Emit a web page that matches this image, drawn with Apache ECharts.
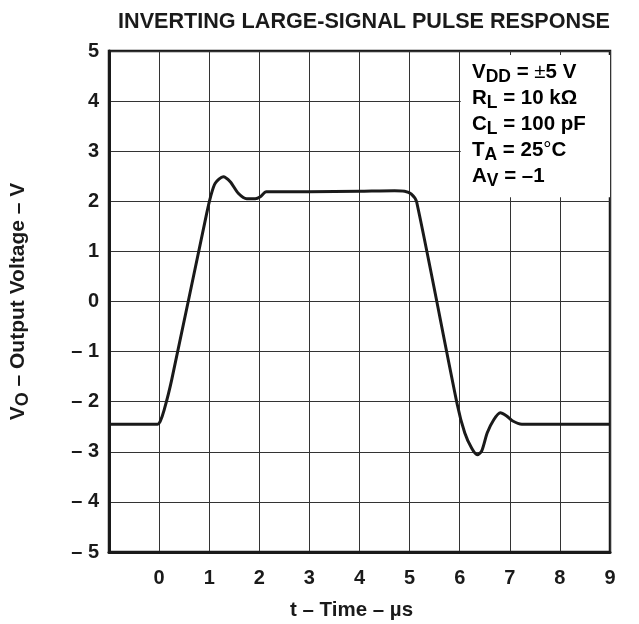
<!DOCTYPE html>
<html>
<head>
<meta charset="utf-8">
<script src="https://cdn.jsdelivr.net/npm/echarts@6/dist/echarts.min.js"></script>
<style>
html,body{margin:0;padding:0;background:#fff;}
#chart{width:639px;height:624px;}
</style>
</head>
<body>
<div id="chart"></div>
<script>
var timeUs = [-1, -0.03, 0.02, 0.1, 0.25, 0.95, 1.03, 1.12, 1.28, 1.42, 1.58, 1.75, 1.92, 2.02, 2.14, 3, 4, 4.7, 4.9, 5.03, 5.14, 5.95, 6.1, 6.24, 6.35, 6.44, 6.55, 6.68, 6.81, 6.93, 7.05, 7.24, 8, 9];
var voltage = [-2.45, -2.45, -2.4, -2.17, -1.57, 1.76, 2.1, 2.36, 2.49, 2.39, 2.16, 2.05, 2.05, 2.09, 2.19, 2.19, 2.2, 2.21, 2.2, 2.15, 1.99, -2.05, -2.62, -2.93, -3.06, -2.98, -2.62, -2.36, -2.22, -2.28, -2.38, -2.45, -2.45, -2.45];
var xTicks = [-1, 0, 1, 2, 3, 4, 5, 6, 7, 8, 9];
var yTicks = [-5, -4, -3, -2, -1, 0, 1, 2, 3, 4, 5];
var conditionBox = [[6.02, 2.08], [9, 4.92]];

var FONT = '"Liberation Sans", Arial, sans-serif';
var INK = '#1a1a1a';

var points = timeUs.map(function (t, i) { return [t, voltage[i]]; });

var chart = echarts.init(document.getElementById('chart'), null, {renderer: 'canvas'});

var norm = {fontSize: 20.5, fontWeight: 'bold', fontFamily: FONT, color: INK, lineHeight: 26};
var sub = {fontSize: 17.5, fontWeight: 'bold', fontFamily: FONT, color: INK, lineHeight: 16, padding: [10, 0, 0, 0]};
var sym = {fontSize: 20.5, fontWeight: 'normal', fontFamily: FONT, color: INK, lineHeight: 26};

chart.setOption({
  animation: false,
  backgroundColor: '#fff',
  title: {
    text: 'INVERTING LARGE-SIGNAL PULSE RESPONSE',
    left: 359, top: 6, textAlign: 'center',
    textStyle: {fontFamily: FONT, fontWeight: 'bold', fontSize: 21.6, color: INK}
  },
  grid: {
    left: 109, right: 29, top: 51, bottom: 72,
    containLabel: false, outerBoundsMode: 'none',
    show: true, borderColor: INK, borderWidth: 2.5, backgroundColor: 'transparent'
  },
  xAxis: [{
    type: 'value', min: -1, max: 9, interval: 1, position: 'bottom',
    axisLine: {show: true, onZero: false, lineStyle: {color: INK, width: 3}},
    axisTick: {show: false},
    splitLine: {show: true, lineStyle: {color: '#333', width: 1}},
    axisLabel: {
      margin: 16, fontFamily: FONT, fontWeight: 'bold', fontSize: 20, color: INK,
      formatter: function (v) { return v < 0 ? '' : String(v); }
    },
    name: 't – Time – µs', nameLocation: 'middle', nameGap: 48,
    nameTextStyle: {fontFamily: FONT, fontWeight: 'bold', fontSize: 20.5, color: INK, padding: [0, 16, 0, 0]}
  }, {
    type: 'value', min: -1, max: 9, interval: 1, position: 'top',
    axisLine: {show: false}, axisTick: {show: false}, axisLabel: {show: false}, splitLine: {show: false}
  }],
  yAxis: {
    type: 'value', min: -5, max: 5, interval: 1,
    axisLine: {show: true, onZero: false, lineStyle: {color: INK, width: 3}},
    axisTick: {show: false},
    splitLine: {show: true, lineStyle: {color: '#333', width: 1}},
    axisLabel: {
      margin: 10, fontFamily: FONT, fontWeight: 'bold', fontSize: 20, color: INK,
      formatter: function (v) { return v < 0 ? '– ' + Math.abs(v) : String(v); }
    },
    name: '{n|V}{s|O}{n| – Output Voltage – V}',
    nameLocation: 'middle', nameRotate: 90, nameGap: 78,
    nameTextStyle: {
      rich: {
        n: {fontFamily: FONT, fontWeight: 'bold', fontSize: 21, color: INK, lineHeight: 26},
        s: {fontFamily: FONT, fontWeight: 'bold', fontSize: 18, color: INK, lineHeight: 16, padding: [10, 0, 0, 0]}
      }
    }
  },
  series: [{
    type: 'line',
    data: points,
    showSymbol: false,
    smooth: 0.25,
    lineStyle: {color: INK, width: 3},
    z: 5,
    markArea: {
      silent: true,
      itemStyle: {color: '#fff', opacity: 1},
      data: [[{coord: conditionBox[0]}, {coord: conditionBox[1]}]]
    }
  }],
  graphic: [{
    type: 'text', left: 472, top: 58, z: 100,
    style: {
      rich: {n: norm, s: sub, y: sym},
      text: [
        '{n|V}{s|DD}{n| = }{y|±}{n|5 V}',
        '{n|R}{s|L}{n| = 10 kΩ}',
        '{n|C}{s|L}{n| = 100 pF}',
        '{n|T}{s|A}{n| = 25}{y|°}{n|C}',
        '{n|A}{s|V}{n| = –1}'
      ].join('\n')
    }
  }]
});
</script>
</body>
</html>
